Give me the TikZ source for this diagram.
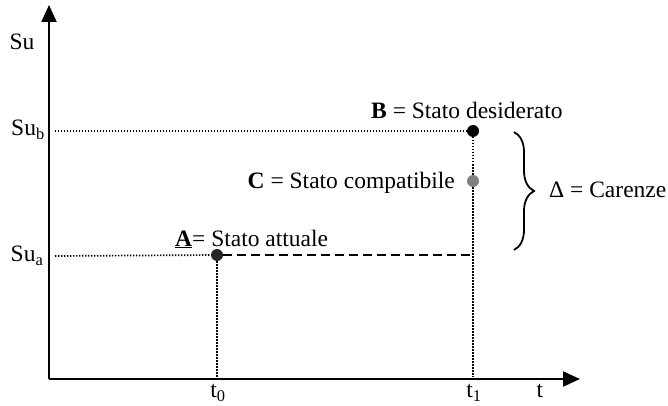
\documentclass[tikz,border=0pt]{standalone}
\usepackage{fontspec}
\setmainfont{Liberation Serif}
\usetikzlibrary{arrows.meta,decorations.pathreplacing}
\begin{document}
\begin{tikzpicture}[x=1pt,y=-1pt,
  lbl/.style={font=\fontsize{23.5}{26}\selectfont, inner sep=0pt},
  axisline/.style={line width=2.2pt, -{Triangle[length=17pt,width=15pt]}},
  dotline/.style={line width=1.7pt, dash pattern=on 1.3pt off 1.7pt},
  dashline/.style={line width=1.8pt, dash pattern=on 9pt off 5pt},
  pt/.style={circle, inner sep=0pt, minimum size=12pt},
]
\useasboundingbox (0,0) rectangle (668,406);
% axes
\coordinate (O) at (49,379);
\coordinate (ytop) at (49,5);
\coordinate (xend) at (580,379);
\draw[axisline] (O) -- (ytop);
\draw[axisline] (O) -- (xend);
% points
\node[pt, fill=black!85] (A) at (217,255) {};
\node[pt, fill=black] (B) at (473,131) {};
\node[pt, fill=black!50] (C) at (473,181) {};
\coordinate (yb) at (55,131);
\coordinate (ya) at (55,256);
\coordinate (t0b) at (217,377);
\coordinate (t1b) at (473,377);
\coordinate (Aend) at (473,255);
% guide lines
\draw[dotline] (yb) -- (B);
\draw[dotline] (ya) -- (A);
\draw[dotline] (A) -- (t0b);
\draw[dotline] (B) -- (C);
\draw[dotline] (C) -- (t1b);
\draw[dashline] (A) -- (Aend);
% labels
\node[lbl] (su) at (22,42) {Su};
\node[lbl] (sub) at (28,130) {Su\textsubscript{b}};
\node[lbl] (sua) at (27,256) {Su\textsubscript{a}};
\node[lbl] (t0) at (218,393) {t\textsubscript{0}};
\node[lbl] (t1) at (474,393) {t\textsubscript{1}};
\node[lbl] (t) at (540,391) {t};
\node[lbl, anchor=west] (Al) at (175,239) {\underline{\textbf{A}}= Stato attuale};
\node[lbl, anchor=west] (Bl) at (371,110) {\textbf{B} = Stato desiderato};
\node[lbl, anchor=east] (Cl) at (455,183) {\textbf{C} = Stato compatibile};
% brace
\coordinate (brt) at (514,132);
\coordinate (brb) at (514,250);
\draw[line width=1.8pt, decorate, decoration={brace, amplitude=20pt}] (brt) -- (brb);
\node[lbl, anchor=west] (D) at (549,190) {Δ = Carenze};
\end{tikzpicture}
\end{document}
